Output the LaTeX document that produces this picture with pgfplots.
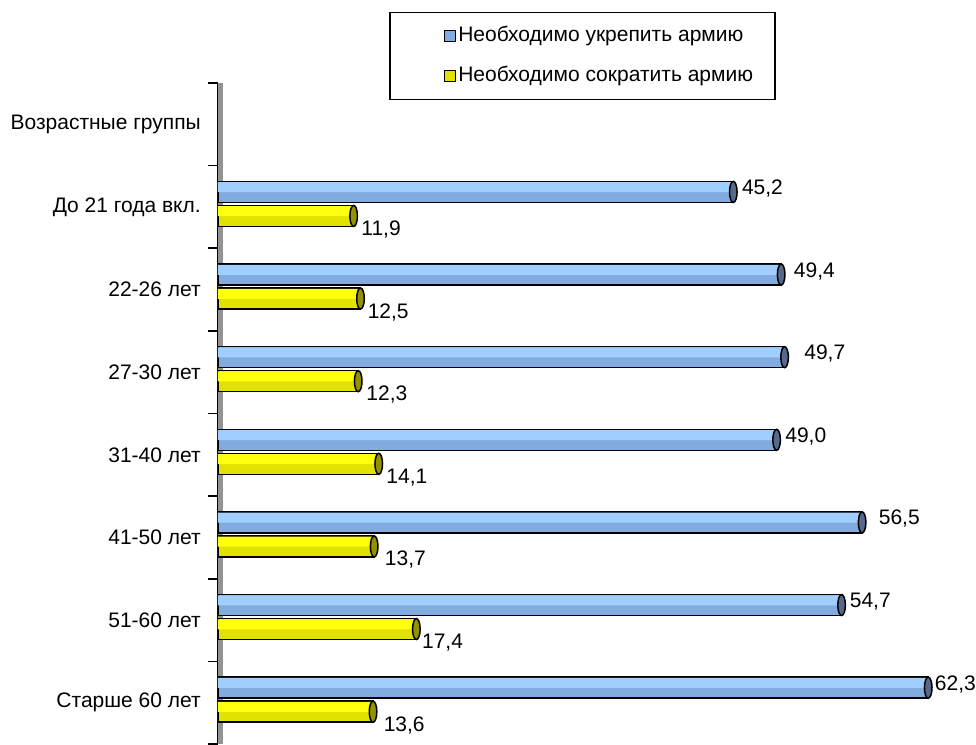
\documentclass[border=0pt]{standalone}
\usepackage{fontspec}
\setmainfont{Liberation Sans}
\usepackage{pgfplots}
\usepackage{pgfplotstable}
\pgfplotsset{compat=1.18}
\definecolor{bluetop}{HTML}{A0CEFF}
\definecolor{bluebot}{HTML}{82ACE0}
\definecolor{bluecap}{HTML}{56698C}
\definecolor{yeltop}{HTML}{FFFF10}
\definecolor{yelbot}{HTML}{E2E200}
\definecolor{yelcap}{HTML}{939300}
\pgfplotstableread{
y v1 d1 v2 d2
6 45.2 8 11.9 7
5 49.4 12 12.5 6.5
4 49.7 19 12.3 7.5
3 49.0 8 14.1 7
2 56.5 16 13.7 10
1 54.7 7.5 17.4 5
0 62.3 6 13.6 10
}\data
\newcommand\lblfont{\fontsize{21}{25}\selectfont}
\begin{document}
\begin{tikzpicture}
\path[use as bounding box] (-218pt,0pt) rectangle (758pt,744pt);
\begin{axis}[
  at={(0pt,0pt)}, anchor=south west,
  scale only axis, width=758pt, height=661pt,
  xmin=0, xmax=66.49, ymin=-0.5, ymax=7.5,
  axis y line*=left, axis x line=none,
  y axis line style={line width=1.5pt, -},
  xtick=\empty,
  ytick={0,...,7},
  yticklabels={Старше 60 лет, 51-60 лет, 41-50 лет, 31-40 лет, 27-30 лет, 22-26 лет, До 21 года вкл., Возрастные группы},
  minor ytick={-0.5,0.5,...,7.5},
  major tick length=0pt, minor tick length=10pt, tick align=outside,
  minor tick style={line width=1.5pt, black},
  yticklabel style={font=\lblfont, inner sep=0pt, xshift=-17pt},
  /pgf/number format/assume math mode=true,
  bar width=21pt,
  point meta=x,
  legend cell align=left,
  legend style={at={(0.2256,1.1074)}, anchor=north west, draw=black, line width=1.5pt,
    inner xsep=20pt, inner ysep=14pt, row sep=21pt, font=\lblfont,
    nodes={inner xsep=2pt, inner ysep=0pt, text height=15pt, text depth=4pt}},
  legend image code/.code={\path (0pt,0pt); \draw[#1,/tikz/.cd, line width=1.5pt, draw=black] (34pt,-5.5pt) rectangle (45pt,5.5pt);},
]
\fill[gray!85] (axis cs:0,-0.5) rectangle ([xshift=5pt]axis cs:0,7.5);
\addplot[xbar, bar shift=15pt, draw=black, line width=1.5pt, fill=bluebot,
  nodes near coords={\pgfmathprintnumber[fixed,fixed zerofill,precision=1,use comma]{\pgfplotspointmeta}},
  visualization depends on={\thisrow{d1} \as \dx},
  nodes near coords style={anchor=west, inner sep=0pt, xshift=\dx pt, yshift=18.5pt, font=\lblfont, text=black}]
  table[x=v1, y=y] {\data};
\addlegendentry{Необходимо укрепить армию}
\addplot[xbar, bar shift=-9pt, draw=black, line width=1.5pt, fill=yelbot,
  nodes near coords={\pgfmathprintnumber[fixed,fixed zerofill,precision=1,use comma]{\pgfplotspointmeta}},
  visualization depends on={\thisrow{d2} \as \dx},
  nodes near coords style={anchor=west, inner sep=0pt, xshift=\dx pt, yshift=-22.5pt, font=\lblfont, text=black}]
  table[x=v2, y=y] {\data};
\addlegendentry{Необходимо сократить армию}
\addplot[forget plot, xbar, bar shift=19.75pt, bar width=10pt, draw=none, fill=bluetop]
  table[x=v1, y=y] {\data};
\addplot[forget plot, xbar, bar shift=-4.25pt, bar width=10pt, draw=none, fill=yeltop]
  table[x=v2, y=y] {\data};
\addplot[forget plot, only marks, mark=*, mark size=10.5pt,
  mark options={yshift=15pt, xscale=0.36, fill=bluecap, draw=black, line width=1.5pt}]
  table[x=v1, y=y] {\data};
\addplot[forget plot, only marks, mark=*, mark size=10.5pt,
  mark options={yshift=-9pt, xscale=0.36, fill=yelcap, draw=black, line width=1.5pt}]
  table[x=v2, y=y] {\data};
\end{axis}
\end{tikzpicture}
\end{document}
